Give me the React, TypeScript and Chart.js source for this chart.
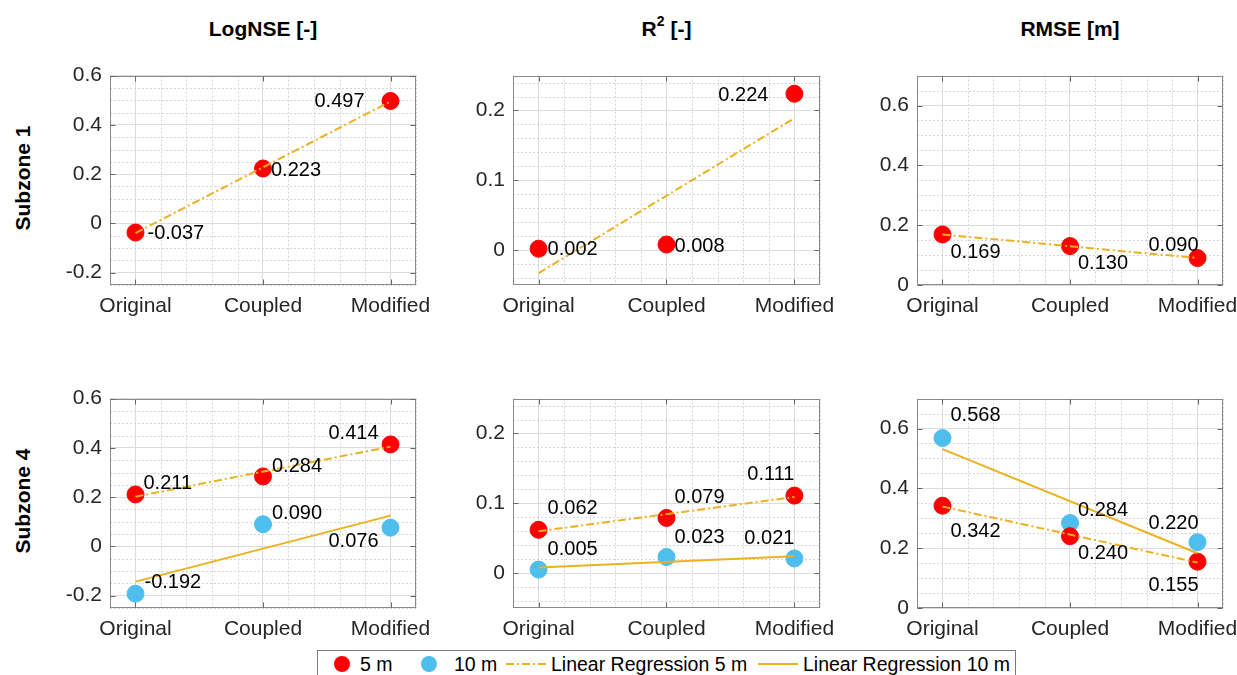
import React, { useEffect, useRef } from 'react';
import { Chart, registerables } from 'chart.js';

Chart.register(...registerables);

// ---------- data ----------
const categories = ['Original', 'Coupled', 'Modified'];
const categoryPositions = [1, 2, 3];
const fitPositions = [1, 3];
const xRange = [0.8, 3.2];
const xMinorStep = 0.2;

const titleMain = ['LogNSE', 'R', 'RMSE'];
const titleSup = ['', '2', ''];
const titleUnit = ['[-]', '[-]', '[m]'];
const rowTitles = ['Subzone 1', 'Subzone 4'];
const legendLabels = ['5 m', '10 m', 'Linear Regression 5 m', 'Linear Regression 10 m'];

// Subzone 1 (5 m only)
const s1LogNSE5m = [-0.037, 0.223, 0.497];
const s1R2_5m = [0.002, 0.008, 0.224];
const s1RMSE5m = [0.169, 0.13, 0.09];
// Subzone 4
const s4LogNSE5m = [0.211, 0.284, 0.414];
const s4LogNSE10m = [-0.192, 0.09, 0.076];
const s4R2_5m = [0.062, 0.079, 0.111];
const s4R2_10m = [0.005, 0.023, 0.021];
const s4RMSE5m = [0.342, 0.24, 0.155];
const s4RMSE10m = [0.568, 0.284, 0.22];

// regression line values at Original and Modified
const s1LogNSEFit5m = [-0.039, 0.495];
const s1R2Fit5m = [-0.033, 0.189];
const s1RMSEFit5m = [0.169, 0.09];
const s4LogNSEFit5m = [0.202, 0.405];
const s4LogNSEFit10m = [-0.143, 0.125];
const s4R2Fit5m = [0.06, 0.109];
const s4R2Fit10m = [0.008, 0.024];
const s4RMSEFit5m = [0.339, 0.152];
const s4RMSEFit10m = [0.531, 0.183];

// y axis: min, max, minor step, major step
const logNSEAxis = [-0.25, 0.6, 0.05, 0.2];
const r2Axis = [-0.05, 0.25, 0.02, 0.1];
const rmseAxis = [0, 0.7, 0.05, 0.2];

// ---------- style / layout ----------
const FONT = '"Liberation Sans", Arial, Helvetica, sans-serif';
const RED = '#FF0000';
const BLUE = '#4DBEEE';
const FIT = '#EDB120';
const MAJOR_GRID = '#dcdcdc';
const MINOR_GRID = '#d6d6d6';
const BOX = '#8a8a8a';
const TICK_TEXT = '#262626';
const DASH_DOT = [8, 3, 2, 3];
const TICK_FONT = 21;
const LABEL_FONT = 20;

const colLefts = [110, 513, 917];
const colRights = [416, 820, 1223];
const rowTops = [70, 393];
const rowBottoms = [285, 608];
const PAD_L = 60;
const PAD_T = 15;
const PAD_R = 32;
const PAD_B = 42;

type Off = [number, number, string];
type SeriesCfg = { values: number[]; color: string; offsets: Off[] };
type FitCfg = { ends: number[]; dashed: boolean };
type PanelCfg = { col: number; row: number; axis: number[]; series: SeriesCfg[]; fits: FitCfg[] };

const panels: PanelCfg[] = [
  {
    col: 0, row: 0, axis: logNSEAxis,
    series: [{ values: s1LogNSE5m, color: RED, offsets: [[12, 1, 'l'], [8, 2, 'l'], [-26, 1, 'r']] }],
    fits: [{ ends: s1LogNSEFit5m, dashed: true }],
  },
  {
    col: 1, row: 0, axis: r2Axis,
    series: [{ values: s1R2_5m, color: RED, offsets: [[9, 1, 'l'], [8, 2, 'l'], [-26, 2, 'r']] }],
    fits: [{ ends: s1R2Fit5m, dashed: true }],
  },
  {
    col: 2, row: 0, axis: rmseAxis,
    series: [{ values: s1RMSE5m, color: RED, offsets: [[8, 18, 'l'], [8, 17, 'l'], [1, -13, 'r']] }],
    fits: [{ ends: s1RMSEFit5m, dashed: true }],
  },
  {
    col: 0, row: 1, axis: logNSEAxis,
    series: [
      { values: s4LogNSE5m, color: RED, offsets: [[8, -11, 'l'], [9, -10, 'l'], [-12, -11, 'r']] },
      { values: s4LogNSE10m, color: BLUE, offsets: [[9, -11, 'l'], [9, -11, 'l'], [-12, 14, 'r']] },
    ],
    fits: [{ ends: s4LogNSEFit5m, dashed: true }, { ends: s4LogNSEFit10m, dashed: false }],
  },
  {
    col: 1, row: 1, axis: r2Axis,
    series: [
      { values: s4R2_5m, color: RED, offsets: [[9, -21, 'l'], [8, -20, 'l'], [0, -21, 'r']] },
      { values: s4R2_10m, color: BLUE, offsets: [[9, -20, 'l'], [8, -20, 'l'], [0, -20, 'r']] },
    ],
    fits: [{ ends: s4R2Fit5m, dashed: true }, { ends: s4R2Fit10m, dashed: false }],
  },
  {
    col: 2, row: 1, axis: rmseAxis,
    series: [
      { values: s4RMSE5m, color: RED, offsets: [[8, 26, 'l'], [8, 17, 'l'], [1, 24, 'r']] },
      { values: s4RMSE10m, color: BLUE, offsets: [[8, -23, 'l'], [8, -13, 'l'], [1, -19, 'r']] },
    ],
    fits: [{ ends: s4RMSEFit5m, dashed: true }, { ends: s4RMSEFit10m, dashed: false }],
  },
];

const isMult = (v: number, step: number) => Math.abs(v / step - Math.round(v / step)) < 1e-6;
const stepTicks = (min: number, max: number, step: number) => {
  const out: number[] = [];
  const s = Math.ceil(min / step - 1e-9);
  const e = Math.floor(max / step + 1e-9);
  for (let k = s; k <= e; k++) out.push(Math.round(k * step * 1e6) / 1e6);
  return out;
};
const isCategory = (v: number) => categoryPositions.some((p) => Math.abs(p - v) < 1e-6);

function Panel({ cfg }: { cfg: PanelCfg }) {
  const ref = useRef<HTMLCanvasElement>(null);
  const left = colLefts[cfg.col] - PAD_L;
  const top = rowTops[cfg.row] - PAD_T;
  const w = colRights[cfg.col] - colLefts[cfg.col] + PAD_L + PAD_R;
  const h = rowBottoms[cfg.row] - rowTops[cfg.row] + PAD_T + PAD_B;

  useEffect(() => {
    const [yMin, yMax, yMinor, yMajor] = cfg.axis;

    const fitSets = cfg.fits.map((f) => ({
      data: fitPositions.map((x, i) => ({ x, y: f.ends[i] })),
      showLine: true,
      borderColor: FIT,
      backgroundColor: FIT,
      borderWidth: 2,
      borderDash: f.dashed ? DASH_DOT : [],
      pointRadius: 0,
      order: 0,
    }));
    const pointSets = cfg.series.map((s) => ({
      data: categoryPositions.map((x, i) => ({ x, y: s.values[i] })),
      showLine: false,
      backgroundColor: s.color,
      borderColor: s.color,
      borderWidth: 1,
      pointRadius: 8.5,
      pointHoverRadius: 8.5,
      order: 1,
      valueLabels: s.offsets,
    }));

    const minorGrid = {
      id: 'minorGrid',
      beforeDatasetsDraw(chart: any) {
        const { ctx, chartArea, scales } = chart;
        const { left: l, right: r, top: t, bottom: b } = chartArea;
        ctx.save();
        ctx.strokeStyle = MINOR_GRID;
        ctx.lineWidth = 1;
        ctx.setLineDash([2, 2]);
        scales.x.ticks.forEach((tk: any) => {
          if (isCategory(tk.value)) return;
          const px = Math.round(scales.x.getPixelForValue(tk.value)) + 0.5;
          ctx.beginPath(); ctx.moveTo(px, t); ctx.lineTo(px, b); ctx.stroke();
        });
        scales.y.ticks.forEach((tk: any) => {
          if (isMult(tk.value, yMajor)) return;
          const py = Math.round(scales.y.getPixelForValue(tk.value)) + 0.5;
          ctx.beginPath(); ctx.moveTo(l, py); ctx.lineTo(r, py); ctx.stroke();
        });
        ctx.restore();
      },
    };

    const boxPlugin = {
      id: 'boxPlugin',
      afterDatasetsDraw(chart: any) {
        const { ctx, chartArea, scales } = chart;
        const l = Math.round(chartArea.left) + 0.5;
        const r = Math.round(chartArea.right) - 0.5;
        const t = Math.round(chartArea.top) + 0.5;
        const b = Math.round(chartArea.bottom) - 0.5;
        ctx.save();
        ctx.strokeStyle = BOX;
        ctx.lineWidth = 1;
        ctx.strokeRect(l, t, r - l, b - t);
        ctx.strokeStyle = '#666';
        const tl = 5;
        categoryPositions.forEach((v) => {
          const px = Math.round(scales.x.getPixelForValue(v)) + 0.5;
          ctx.beginPath();
          ctx.moveTo(px, b); ctx.lineTo(px, b - tl);
          ctx.moveTo(px, t); ctx.lineTo(px, t + tl);
          ctx.stroke();
        });
        scales.y.ticks.forEach((tk: any) => {
          if (!isMult(tk.value, yMajor)) return;
          const py = Math.round(scales.y.getPixelForValue(tk.value)) + 0.5;
          ctx.beginPath();
          ctx.moveTo(l, py); ctx.lineTo(l + tl, py);
          ctx.moveTo(r, py); ctx.lineTo(r - tl, py);
          ctx.stroke();
        });
        ctx.restore();
      },
    };

    const labelPlugin = {
      id: 'valueLabels',
      afterDatasetsDraw(chart: any) {
        const ctx = chart.ctx;
        ctx.save();
        ctx.font = `${LABEL_FONT}px ${FONT}`;
        ctx.fillStyle = '#000';
        ctx.textBaseline = 'middle';
        chart.data.datasets.forEach((ds: any, i: number) => {
          if (!ds.valueLabels) return;
          const meta = chart.getDatasetMeta(i);
          meta.data.forEach((el: any, j: number) => {
            const [dx, dy, al] = ds.valueLabels[j];
            ctx.textAlign = al === 'r' ? 'right' : 'left';
            ctx.fillText(ds.data[j].y.toFixed(3), el.x + dx, el.y + dy);
          });
        });
        ctx.restore();
      },
    };

    const chart = new Chart(ref.current as HTMLCanvasElement, {
      type: 'scatter',
      data: { datasets: [...fitSets, ...pointSets] as any },
      options: {
        responsive: false,
        animation: false,
        devicePixelRatio: 1,
        events: [],
        layout: { padding: { top: PAD_T, right: PAD_R, left: 0, bottom: 0 } },
        plugins: { legend: { display: false }, tooltip: { enabled: false }, title: { display: false } },
        scales: {
          x: {
            type: 'linear',
            min: xRange[0],
            max: xRange[1],
            afterBuildTicks: (s: any) => {
              s.ticks = stepTicks(xRange[0], xRange[1], xMinorStep).map((v) => ({ value: v }));
            },
            afterFit: (s: any) => { s.height = PAD_B; },
            ticks: {
              autoSkip: false,
              maxRotation: 0,
              minRotation: 0,
              padding: 9,
              color: TICK_TEXT,
              font: { family: FONT, size: TICK_FONT },
              callback: (v: any) => {
                const idx = categoryPositions.findIndex((p) => Math.abs(p - v) < 1e-6);
                return idx >= 0 ? categories[idx] : '';
              },
            },
            grid: {
              drawTicks: false,
              lineWidth: 1,
              color: (c: any) => (c.tick && isCategory(c.tick.value) ? MAJOR_GRID : 'rgba(0,0,0,0)'),
            },
            border: { display: false },
          },
          y: {
            type: 'linear',
            min: yMin,
            max: yMax,
            afterBuildTicks: (s: any) => {
              s.ticks = stepTicks(yMin, yMax, yMinor).map((v) => ({ value: v }));
            },
            afterFit: (s: any) => { s.width = PAD_L; },
            ticks: {
              autoSkip: false,
              padding: 8,
              color: TICK_TEXT,
              font: { family: FONT, size: TICK_FONT },
              callback: (v: any) => (isMult(v, yMajor) ? (Math.abs(v) < 1e-9 ? '0' : Number(v).toFixed(1)) : ''),
            },
            grid: {
              drawTicks: false,
              lineWidth: 1,
              color: (c: any) => (c.tick && isMult(c.tick.value, yMajor) ? MAJOR_GRID : 'rgba(0,0,0,0)'),
            },
            border: { display: false },
          },
        },
      } as any,
      plugins: [minorGrid, boxPlugin, labelPlugin],
    });
    return () => chart.destroy();
  }, []);

  return (
    <canvas
      ref={ref}
      width={w}
      height={h}
      style={{ position: 'absolute', left, top, width: w, height: h }}
    />
  );
}

function Legend() {
  const fs = 19.5;
  const ty = 21;
  return (
    <svg
      style={{ position: 'absolute', left: 317, top: 650 }}
      width={700}
      height={25}
    >
      <rect x={0.5} y={0.5} width={698} height={40} fill="#fff" stroke="#7a7a7a" strokeWidth={1} />
      <circle cx={25} cy={14} r={8} fill={RED} />
      <text x={43} y={ty} fontSize={fs} fontFamily={FONT} fill="#000">{legendLabels[0]}</text>
      <circle cx={112} cy={14} r={8} fill={BLUE} />
      <text x={137} y={ty} fontSize={fs} fontFamily={FONT} fill="#000">{legendLabels[1]}</text>
      <line x1={189} x2={229} y1={14} y2={14} stroke={FIT} strokeWidth={2} strokeDasharray={DASH_DOT.join(' ')} />
      <text x={234} y={ty} fontSize={fs} fontFamily={FONT} fill="#000">{legendLabels[2]}</text>
      <line x1={441} x2={481} y1={14} y2={14} stroke={FIT} strokeWidth={2} />
      <text x={486} y={ty} fontSize={fs} fontFamily={FONT} fill="#000">{legendLabels[3]}</text>
    </svg>
  );
}

export default function App() {
  return (
    <div
      style={{
        position: 'fixed',
        left: 0,
        top: 0,
        width: 1237,
        height: 675,
        background: '#fff',
        overflow: 'hidden',
        fontFamily: FONT,
      }}
    >
      {titleMain.map((t, i) => (
        <div
          key={'t' + i}
          style={{
            position: 'absolute',
            left: (colLefts[i] + colRights[i]) / 2 - 150,
            width: 300,
            top: 18,
            textAlign: 'center',
            fontSize: 21,
            lineHeight: '21px',
            fontWeight: 'bold',
            color: '#000',
            whiteSpace: 'nowrap',
          }}
        >
          {t}
          {titleSup[i] ? (
            <span style={{ fontSize: 14, position: 'relative', top: -10 }}>{titleSup[i]}</span>
          ) : null}
          {' ' + titleUnit[i]}
        </div>
      ))}
      {rowTitles.map((t, i) => (
        <div
          key={'r' + i}
          style={{
            position: 'absolute',
            left: 22,
            top: (rowTops[i] + rowBottoms[i]) / 2,
            transform: 'translate(-50%, -50%) rotate(-90deg)',
            fontSize: 21,
            lineHeight: '21px',
            fontWeight: 'bold',
            color: '#000',
            whiteSpace: 'nowrap',
          }}
        >
          {t}
        </div>
      ))}
      {panels.map((p, i) => (
        <Panel key={'p' + i} cfg={p} />
      ))}
      <Legend />
    </div>
  );
}
